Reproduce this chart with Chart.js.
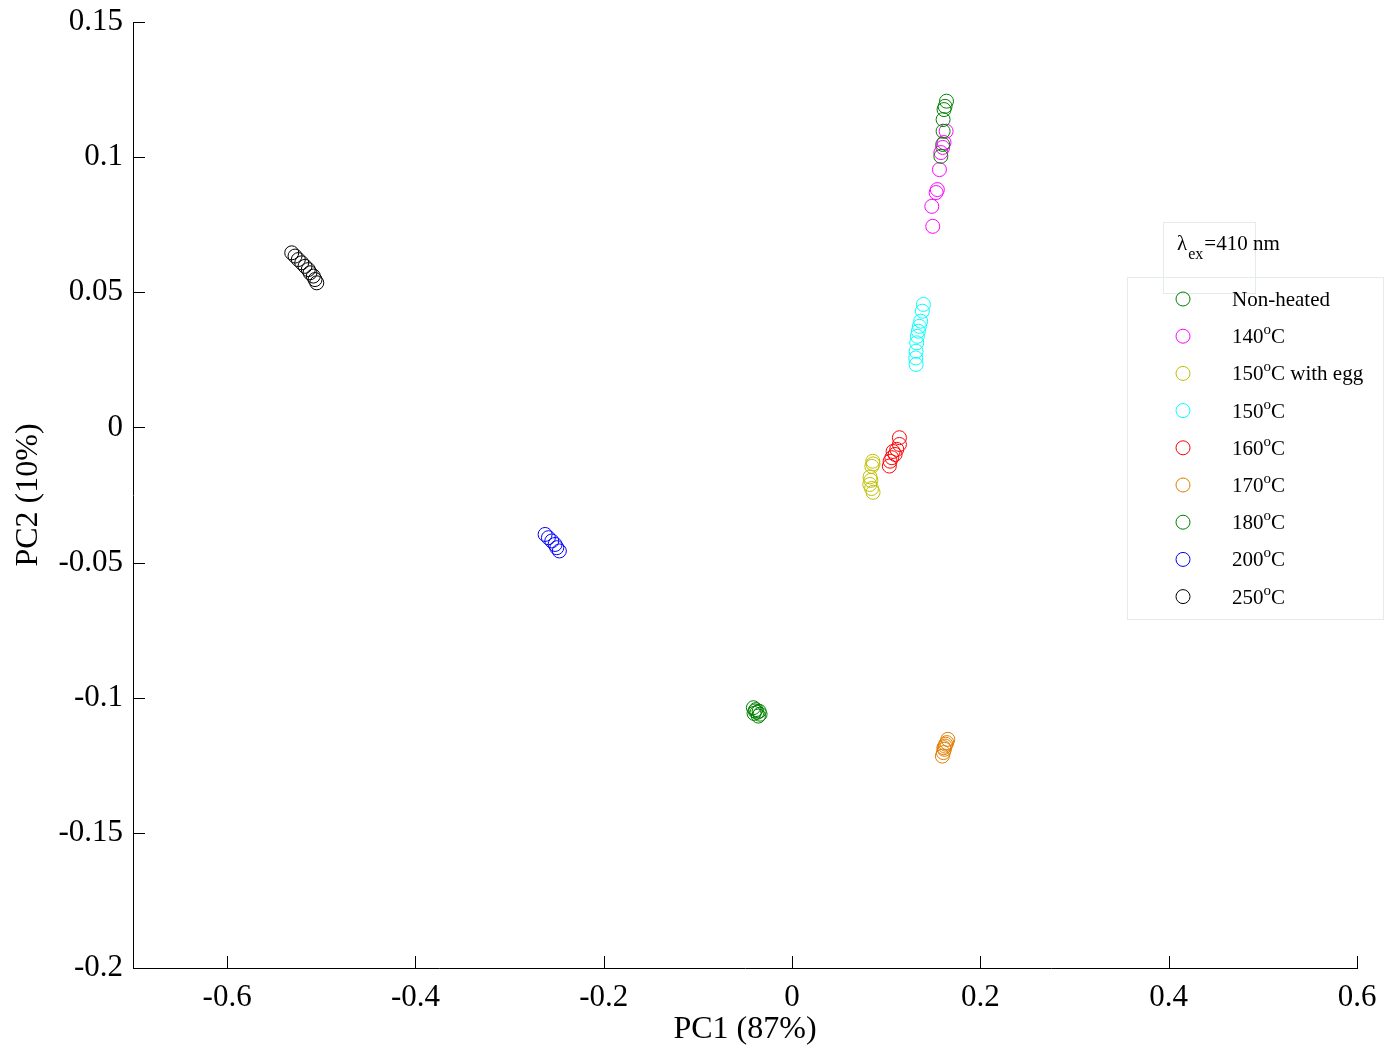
<!DOCTYPE html>
<html>
<head>
<meta charset="utf-8">
<script src="https://cdn.jsdelivr.net/npm/chart.js@4.4.0/dist/chart.umd.min.js"></script>
<style>
  html,body{margin:0;padding:0;background:#fff;}
  #wrap{width:1393px;height:1051px;}
</style>
</head>
<body>
<div id="wrap"><canvas id="pca" width="1393" height="1051"></canvas></div>
<script>
// PCA score plot, lambda_ex = 410 nm
const seriesLabels = ['Non-heated','140°C','150°C with egg','150°C','160°C','170°C','180°C','200°C','250°C'];
const seriesColors = ['#008000','#ff00ff','#bfbf00','#00ffff','#ff0000','#df7e00','#008000','#0000ff','#000000'];

// [PC1, PC2] pairs
const nonHeated = [[0.164,0.1207],[0.1625,0.1188],[0.1614,0.1176],[0.1604,0.1139],[0.1604,0.1096],[0.160,0.1047],[0.158,0.1003]];
const t140 = [[0.1636,0.1096],[0.1614,0.1054],[0.160,0.1036],[0.158,0.1017],[0.1565,0.0954],[0.1543,0.0880],[0.153,0.0869],[0.1484,0.0818],[0.1494,0.0744]];
const t150egg = [[0.0857,-0.0125],[0.0860,-0.0135],[0.0847,-0.0144],[0.0828,-0.0183],[0.0836,-0.0196],[0.0825,-0.0211],[0.0844,-0.0226],[0.0860,-0.0240]];
const t150 = [[0.1395,0.0455],[0.1384,0.0430],[0.1366,0.0393],[0.1352,0.0374],[0.1341,0.0356],[0.133,0.0337],[0.1324,0.0313],[0.1317,0.0282],[0.1314,0.0257],[0.1317,0.0233]];
const t160 = [[0.114,-0.0038],[0.114,-0.0063],[0.1112,-0.0081],[0.1094,-0.0100],[0.1073,-0.0089],[0.1059,-0.0112],[0.1041,-0.0125],[0.1033,-0.0143]];
const t170 = [[0.1654,-0.1154],[0.1643,-0.1166],[0.1632,-0.1172],[0.1625,-0.1179],[0.1612,-0.1185],[0.1618,-0.1191],[0.1607,-0.1203],[0.1596,-0.1216]];
const t180 = [[-0.0411,-0.1037],[-0.0393,-0.1049],[-0.0385,-0.1044],[-0.0372,-0.1054],[-0.0350,-0.1050],[-0.0340,-0.1061],[-0.0358,-0.1068],[-0.0404,-0.1058]];
const t200 = [[-0.2623,-0.0396],[-0.2588,-0.0408],[-0.2552,-0.0420],[-0.2517,-0.0433],[-0.2499,-0.0445],[-0.2472,-0.0457]];
const t250 = [[-0.5314,0.0646],[-0.5279,0.0634],[-0.5244,0.0621],[-0.5208,0.0609],[-0.5173,0.0596],[-0.5138,0.0584],[-0.5120,0.0572],[-0.5085,0.0560],[-0.5067,0.0547],[-0.5048,0.0535]];

const allSeries = [nonHeated, t140, t150egg, t150, t160, t170, t180, t200, t250];

const xTicks = [-0.6,-0.4,-0.2,0,0.2,0.4,0.6];
const yTicks = [0.15,0.1,0.05,0,-0.05,-0.1,-0.15,-0.2];
const xTitle = 'PC1 (87%)';
const yTitle = 'PC2 (10%)';
const legendTitle = {sym:'λ', sub:'ex', rest:'=410 nm'};

const FONT = "'Liberation Serif','Times New Roman',serif";

const datasets = allSeries.map((pts,i)=>({
  label: seriesLabels[i],
  data: pts.map(p=>({x:p[0], y:p[1]})),
  borderColor: seriesColors[i],
  backgroundColor: 'rgba(0,0,0,0)',
  pointStyle: 'circle',
  pointRadius: 7,
  pointHoverRadius: 7,
  pointBorderWidth: 1,
  showLine: false
}));

function fmt(v){ return String(Number(v.toFixed(2))); }

// ticks pointing into the axes, matlab style
const innerTicks = {
  id:'innerTicks',
  afterDraw(chart){
    const ctx = chart.ctx, a = chart.chartArea, sx = chart.scales.x, sy = chart.scales.y;
    ctx.save();
    ctx.strokeStyle = '#000'; ctx.lineWidth = 1;
    ctx.beginPath();
    xTicks.forEach(v=>{
      const px = Math.round(sx.getPixelForValue(v)) + 0.5;
      ctx.moveTo(px, a.bottom); ctx.lineTo(px, a.bottom - 12);
    });
    yTicks.forEach(v=>{
      const py = Math.round(sy.getPixelForValue(v)) + 0.5;
      ctx.moveTo(a.left, py); ctx.lineTo(a.left + 12, py);
    });
    ctx.stroke();
    ctx.restore();
  }
};

// draws "140°C" with a raised small o
function drawDegText(ctx, txt, x, y){
  const parts = txt.split('°');
  ctx.font = '21px ' + FONT;
  ctx.fillText(parts[0], x, y);
  let cx = x + ctx.measureText(parts[0]).width;
  if(parts.length > 1){
    ctx.font = '15px ' + FONT;
    ctx.fillText('o', cx, y - 9);
    cx += ctx.measureText('o').width;
    ctx.font = '21px ' + FONT;
    ctx.fillText(parts[1], cx, y);
  }
}

const boxLegend = {
  id:'boxLegend',
  afterDraw(chart){
    const ctx = chart.ctx;
    ctx.save();
    ctx.fillStyle = '#fff';
    ctx.fillRect(1127, 277, 256, 342);
    ctx.strokeStyle = '#e3ebeb'; ctx.lineWidth = 1;
    ctx.strokeRect(1127.5, 277.5, 256, 342);
    ctx.strokeRect(1163.5, 222.5, 92, 71);

    ctx.fillStyle = '#000';
    ctx.textBaseline = 'alphabetic';
    ctx.textAlign = 'left';
    ctx.font = '21px ' + FONT;
    ctx.fillText(legendTitle.sym, 1177, 250);
    let tx = 1177 + ctx.measureText(legendTitle.sym).width + 1;
    ctx.font = '16px ' + FONT;
    ctx.fillText(legendTitle.sub, tx, 259);
    tx += ctx.measureText(legendTitle.sub).width + 1;
    ctx.font = '21px ' + FONT;
    ctx.fillText(legendTitle.rest, tx, 250);

    chart.data.datasets.forEach((ds,i)=>{
      const cy = 299 + i * 37.2;
      ctx.beginPath();
      ctx.strokeStyle = ds.borderColor;
      ctx.arc(1183, cy, 7, 0, Math.PI*2);
      ctx.stroke();
      ctx.fillStyle = '#000';
      drawDegText(ctx, ds.label, 1232, cy + 7);
    });
    ctx.restore();
  }
};

new Chart(document.getElementById('pca').getContext('2d'), {
  type:'scatter',
  data:{datasets},
  options:{
    responsive:false,
    animation:false,
    events:[],
    layout:{padding:{left:0, top:22, right:36, bottom:0}},
    plugins:{legend:{display:false}, tooltip:{enabled:false}},
    scales:{
      x:{
        type:'linear', min:-0.7, max:0.6,
        afterBuildTicks(s){ s.ticks = xTicks.map(v=>({value:v})); },
        afterFit(s){ s.height = 83; },
        grid:{display:false, drawTicks:false},
        border:{display:true, color:'#000', width:1},
        ticks:{color:'#000', padding:11, maxRotation:0, autoSkip:false, font:{family:FONT, size:31}, callback:v=>fmt(v)},
        title:{display:true, text:xTitle, color:'#000', font:{family:FONT, size:32}, padding:{top:0, bottom:2}}
      },
      y:{
        type:'linear', min:-0.2, max:0.15,
        afterBuildTicks(s){ s.ticks = yTicks.map(v=>({value:v})); },
        afterFit(s){ s.width = 133; s.paddingTop = 0; s.paddingBottom = 0; },
        grid:{display:false, drawTicks:false},
        border:{display:true, color:'#000', width:1},
        ticks:{color:'#000', padding:10, autoSkip:false, font:{family:FONT, size:31, lineHeight:1}, callback:v=>fmt(v)},
        title:{display:true, text:yTitle, color:'#000', font:{family:FONT, size:32}, padding:{top:9, bottom:0}}
      }
    }
  },
  plugins:[innerTicks, boxLegend]
});
</script>
</body>
</html>
